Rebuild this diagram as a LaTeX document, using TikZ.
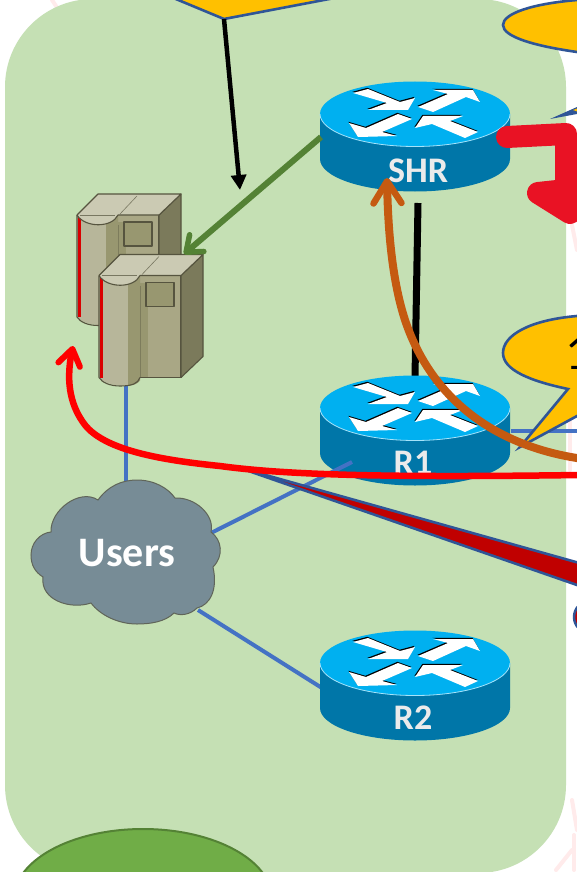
\documentclass[tikz,border=0pt]{standalone}
\usepackage{fontspec}
\setmainfont{Carlito}
\usetikzlibrary{arrows.meta}
\definecolor{panel}{HTML}{C5E0B4}
\definecolor{gold}{HTML}{FFC000}
\definecolor{navy}{HTML}{2F5597}
\definecolor{lnk}{HTML}{4472C4}
\definecolor{rtop}{HTML}{00B0F0}
\definecolor{rside}{HTML}{0076A8}
\definecolor{greenl}{HTML}{548235}
\definecolor{greenf}{HTML}{70AD47}
\definecolor{rust}{HTML}{C55A11}
\definecolor{redb}{HTML}{E91224}
\definecolor{darkred}{HTML}{C00000}
\definecolor{cloudc}{HTML}{778C96}
\definecolor{srvtop}{HTML}{CBCAB3}
\definecolor{srvside}{HTML}{7B7A5B}
\definecolor{srvfront}{HTML}{A9A785}
\definecolor{srvround}{HTML}{B7B69A}
\definecolor{srvmid}{HTML}{989770}
\definecolor{srvline}{HTML}{56543F}
\tikzset{
  x=1pt,y=-1pt,
  link/.style={draw=lnk,line width=4pt},
  callout/.style={fill=gold,draw=navy,line width=2.6pt},
  rlabel/.style={text=white!92!black,font=\bfseries\fontsize{36}{36}\selectfont,inner sep=0pt},
  srv/.style={draw=srvline,line width=1.1pt,line join=round}
}
\newcommand{\router}[5]{%
  \begin{scope}[shift={(#1,#2)}]
    \fill[rside] (-95,0) -- (-95,45) arc[x radius=95,y radius=32.5,start angle=180,end angle=0] -- (95,0) -- cycle;
    \fill[rtop] (0,0) ellipse[x radius=95,y radius=32.5];
    \draw[white!65!rtop,line width=.8pt] (-95,0) arc[x radius=95,y radius=32.5,start angle=180,end angle=0];
    \begin{scope}[shift={(-.6,-1.2)}]
      \fill[black] (-62,-21) -- (-47,-25) -- (-15,-12) -- (0,-16) -- (-7,-4) -- (-47,-4) -- (-28,-11) -- cycle;
      \fill[black] (3,-7) -- (33,-20) -- (18,-24) -- (58,-24) -- (65,-12) -- (51,-17) -- (18,-2) -- cycle;
      \fill[black] (-66,9) -- (-49,14) -- (-17,0) -- (-3,5) -- (-33,18) -- (-18,22) -- (-57,23) -- cycle;
      \fill[black] (0,14) -- (8,2) -- (48,2) -- (35,7) -- (63,18) -- (50,24) -- (17,10) -- cycle;
    \end{scope}
    \fill[white] (-62,-21) -- (-47,-25) -- (-15,-12) -- (0,-16) -- (-7,-4) -- (-47,-4) -- (-28,-11) -- cycle;
    \fill[white] (3,-7) -- (33,-20) -- (18,-24) -- (58,-24) -- (65,-12) -- (51,-17) -- (18,-2) -- cycle;
    \fill[white] (-66,9) -- (-49,14) -- (-17,0) -- (-3,5) -- (-33,18) -- (-18,22) -- (-57,23) -- cycle;
    \fill[white] (0,14) -- (8,2) -- (48,2) -- (35,7) -- (63,18) -- (50,24) -- (17,10) -- cycle;
    \node[rlabel] (#3lab) at (#4,#5) {#3};
  \end{scope}}
\newcommand{\server}[3]{%
  \begin{scope}[shift={(#1,#2)}]
    \fill[srvfront] (118,215) rectangle (159,317);
    \fill[srvmid] (106,222) rectangle (126,317);
    \draw[srv] (118,317) -- (159,317) -- (159,215);
    \fill[srvside,srv] (159,215) -- (181,194) -- (181,296) -- (159,317) -- cycle;
    \fill[srvround] (77,215) -- (106,215) -- (106,325) .. controls (95,326) and (82,323) .. (77,317) -- cycle;
    \fill[srvmid] (106,215) -- (118,215) -- (118,320) .. controls (116,323) and (112,325) .. (106,325) -- cycle;
    \draw[srv] (118,317) .. controls (116,323) and (110,325.5) .. (98,325.5) .. controls (88,325.5) and (80,322) .. (77,317) -- (77,215);
    \draw[srvline,line width=.5pt,opacity=.4] (118,225) -- (118,317);
    \fill[#3] (77.5,216) rectangle (80.5,317);
    \fill[srvmid,srv] (124,222) rectangle (152,246);
    \fill[srvtop,srv] (77,215) -- (98,194) -- (181,194) -- (159,215) -- (118,215) .. controls (112,228) and (85,228) .. (77,215) -- cycle;
    \draw[srvline,line width=.6pt,opacity=.7] (80,215) -- (115,215);
    \draw[srvline,line width=.6pt,opacity=.7] (120,214) -- (137,196);
  \end{scope}}
\begin{document}
\begin{tikzpicture}
\useasboundingbox (0,0) rectangle (577,872);
\fill[white] (0,0) rectangle (577,872);
% faint watermark
\begin{scope}[draw=red!8,line width=4pt,line cap=round]
  \draw (52,0) -- (58,9);
  \draw (572,225) -- (577,250);
  \draw (570,380) -- (570,470);
  \draw (572,800) -- (577,830);
  \draw (572,850) -- (556,870);
  \draw (574,835) -- (574,870);
\end{scope}
% panel
\fill[panel,rounded corners=88pt] (5,-1) rectangle (566,873);
% top shapes
\coordinate (dia) at (224,19);
\fill[callout] (159,-8) -- (dia) -- (366,-8) -- cycle;
\fill[callout] (590,-2) -- (577,0) .. controls (530,4) and (503,14) .. (503,25) .. controls (503,37) and (535,46) .. (577,52) -- (590,54) -- cycle;
% bottom ellipse
\draw[fill=greenf,draw=greenl,line width=2pt] (143,899) ellipse[x radius=129,y radius=70];
% links under the routers
\coordinate (srvb) at (126,386);
\coordinate (cloudt) at (126,484);
\draw[link] (srvb) -- (cloudt);
\coordinate (cloudb) at (198,610);
\coordinate (r2l) at (322,688);
\draw[link] (cloudb) -- (r2l);
\coordinate (r1r) at (511,431);
\coordinate (edge1) at (580,431);
\draw[link] (r1r) -- (edge1);
% routers
\coordinate (shrb) at (418,203);
\coordinate (r1t) at (415,377);
\draw[black,line width=7pt] (shrb) -- (r1t);
\router{415}{114}{SHR}{3}{57}
\router{415}{408}{R1}{-2}{55}
\router{415}{663}{R2}{-2}{55}
% link that ends on R1
\coordinate (cloudr) at (211,533);
\coordinate (r1l) at (352,462);
\draw[link] (cloudr) -- (r1l);
% black arrow
\coordinate (arrowt) at (240,190);
\draw[black,line width=4.5pt,-{Triangle[length=15pt,width=15pt]}] (dia) -- (arrowt);
% servers
\server{0}{0}{red!85!black}
\server{22}{60.5}{red!85!black}
% green arrow
\coordinate (shrl) at (321,137);
\coordinate (srv1) at (184,254);
\draw[greenl,line width=6pt,-{Straight Barb[round,length=14pt,width=22pt,line width=5.5pt]}] (shrl) -- (srv1);
% cloud
\draw[fill=cloudc,draw=srvline!70!cloudc,line width=1pt]
 (98,500) .. controls (108,486) and (122,480) .. (137,480) .. controls (154,480) and (168,488) .. (175,498)
 .. controls (195,497) and (215,515) .. (211,532)
 .. controls (222,540) and (224,556) .. (213,567)
 .. controls (218,590) and (210,605) .. (197,608)
 .. controls (190,615) and (180,616) .. (174,613)
 .. controls (165,622) and (150,624) .. (137,624) .. controls (118,624) and (100,615) .. (91,603)
 .. controls (70,610) and (40,600) .. (43,577)
 .. controls (35,572) and (31,565) .. (31,555) .. controls (31,543) and (40,533) .. (51,532)
 .. controls (50,510) and (80,488) .. (98,500) -- cycle;
\node[text=white,font=\bfseries\fontsize{42}{42}\selectfont,inner sep=0pt] (users) at (127,553) {Users};
% callout 1
\fill[callout] (590,314) -- (577,316) .. controls (530,320) and (503,335) .. (503,353) .. controls (503,370) and (530,381) .. (568,389) -- (520,447) -- (577,416) -- (590,410) -- cycle;
\node[font=\fontsize{50}{50}\selectfont,inner sep=0pt,anchor=west] (one) at (565,353) {1};
% wedge
\coordinate (wedget) at (237,467);
\fill[darkred,draw=navy,line width=2.6pt] (wedget) -- (590,566) -- (590,589.5) -- cycle;
% red curve
\coordinate (redend) at (580,475);
\coordinate (redtip) at (73,346);
\draw[red,line width=6.5pt,-{Straight Barb[round,length=16pt,width=22pt,line width=6pt]}] (redend) .. controls (430,477) and (300,477) .. (220,466) .. controls (160,460) and (105,450) .. (85,425) .. controls (72,408) and (65,385) .. (redtip);
% rust curve
\coordinate (rustend) at (580,458.5);
\coordinate (rusttip) at (387,178);
\draw[rust,line width=8pt,-{Straight Barb[round,length=22pt,width=28pt,line width=6.5pt]}] (rustend) .. controls (490,445) and (430,395) .. (405,320) .. controls (392,280) and (388,230) .. (rusttip);
% thick red shape
\draw[redb,line width=22pt,line cap=round,line join=round] (507,137) -- (566,134) -- (566,190) -- (538,193) -- (570,213);
\fill[redb] (566,185) rectangle (580,220);
% blue wedge
\fill[navy] (550,119) -- (577,107) -- (577,114) -- cycle;
\fill[gold] (573,110) -- (577,108.5) -- (577,111.5) -- cycle;
% ring
\draw[fill=darkred,draw=navy,line width=2.5pt] (590,617) circle[radius=16];
\end{tikzpicture}
\end{document}
